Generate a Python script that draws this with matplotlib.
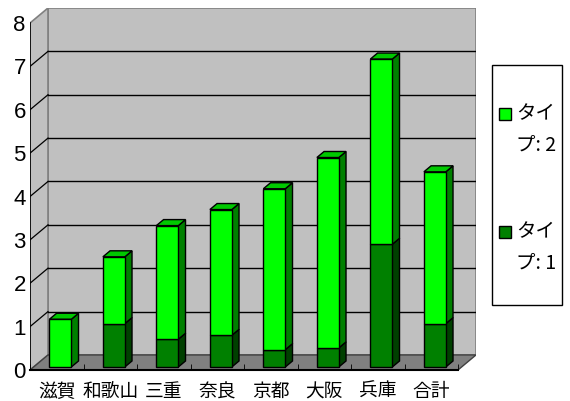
import matplotlib
matplotlib.use('Agg')
import matplotlib.pyplot as plt
from matplotlib.patches import Polygon, Rectangle
import numpy as np

# データ
prefs = ['滋賀', '和歌山', '三重', '奈良', '京都', '大阪', '兵庫', '合計']
type1 = [0.0, 1.0, 0.64, 0.73, 0.40, 0.44, 2.83, 1.0]
type2 = [1.1, 1.54, 2.62, 2.90, 3.71, 4.39, 4.27, 3.5]
names = ['タイプ: 1', 'タイプ: 2']
yticks = list(range(9))

plt.rcParams['font.family'] = ['Noto Sans CJK JP', 'DejaVu Sans']

# 奥行きのずらし量 (データ単位)
DX = 18 / 53.5
DY = 15 / 43.25
D0, D1 = 0.2, 0.6      # 棒の奥行き位置
W = 0.41               # 棒の幅
WALL = '#c0c0c0'
FLOOR = '#808080'
EDGE = '#808080'

fig = plt.figure(figsize=(5.70, 4.01), dpi=100)
ax = fig.add_axes([30 / 570, 31 / 401, 446 / 570, 362 / 401])
ax.set_xlim(-0.5, 7.5 + DX)
ax.set_ylim(0, 8 + DY)
n = len(prefs)
x0, x1 = -0.5, n - 0.5

# 奥の壁
ax.add_patch(Polygon([(x0 + DX, DY), (x1 + DX, DY), (x1 + DX, 8 + DY), (x0 + DX, 8 + DY)],
                     closed=True, fc=WALL, ec=EDGE, lw=1.2, zorder=0))
# 左の壁
ax.add_patch(Polygon([(x0, 0), (x0 + DX, DY), (x0 + DX, 8 + DY), (x0, 8)],
                     closed=True, fc=WALL, ec=EDGE, lw=1.2, zorder=0))
# 床
ax.add_patch(Polygon([(x0, 0), (x1, 0), (x1 + DX, DY), (x0 + DX, DY)],
                     closed=True, fc=FLOOR, ec='#404040', lw=1, zorder=0.5))

# 目盛線
for v in yticks[1:-1]:
    ax.plot([x0 + DX, x1 + DX], [v + DY, v + DY], color='black', lw=1, zorder=0.6)
    ax.plot([x0, x0 + DX], [v, v + DY], color='black', lw=0.9, zorder=0.6)
ax.plot([x0, x0], [0, 8], color='black', lw=1.2, zorder=0.7)
ax.plot([x0, x1], [0, 0], color='black', lw=1.5, zorder=0.7, clip_on=False)


def draw_segment(xc, bottom, height, side, top, is_top):
    xa = xc - W / 2 + D0 * DX
    xb = xc + W / 2 + D0 * DX
    ya = bottom + D0 * DY
    yb = bottom + height + D0 * DY
    sx, sy = (D1 - D0) * DX, (D1 - D0) * DY
    ax.add_patch(Polygon([(xb, ya), (xb + sx, ya + sy), (xb + sx, yb + sy), (xb, yb)],
                         closed=True, fc=side, ec='black', lw=1, zorder=2))
    if is_top:
        ax.add_patch(Polygon([(xa, yb), (xb, yb), (xb + sx, yb + sy), (xa + sx, yb + sy)],
                             closed=True, fc=top, ec='black', lw=1, zorder=2))


x = np.arange(n)
t1 = np.array(type1)
t2 = np.array(type2)
for i in range(n):
    if t1[i] > 0:
        draw_segment(x[i], 0, t1[i], '#004000', '#006000', False)
    draw_segment(x[i], t1[i], t2[i], '#008000', '#00c800', True)

mask = t1 > 0
ax.bar(x[mask] + D0 * DX, t1[mask], W, bottom=D0 * DY, color='#008000',
       edgecolor='black', lw=1, zorder=3)
ax.bar(x + D0 * DX, t2, W, bottom=t1 + D0 * DY, color='#00ff00',
       edgecolor='black', lw=1, zorder=3)

for s in ax.spines.values():
    s.set_visible(False)
ax.set_yticks(yticks)
ax.set_yticklabels([str(v) for v in yticks], family=['Liberation Sans', 'DejaVu Sans'],
                   fontsize=16)
ax.tick_params(axis='y', length=0, pad=3)
ax.set_xticks(x)
ax.set_xticklabels(prefs, fontsize=13.5)
ax.set_xticks(np.arange(-0.5, n + 0.5), minor=True)
ax.tick_params(axis='x', which='major', length=0, pad=8)
ax.tick_params(axis='x', which='minor', length=4, direction='in', color='black')

# 凡例
fig.patches.append(Rectangle((492 / 570, 1 - 305 / 401), 70 / 570, 240 / 401,
                             transform=fig.transFigure, fc='white', ec='black', lw=1))
legend_items = [(names[1], '#00ff00', 114), (names[0], '#008000', 232)]
for label, col, ypix in legend_items:
    fig.patches.append(Rectangle((499 / 570, 1 - (ypix + 6) / 401), 12 / 570, 12 / 401,
                                 transform=fig.transFigure, fc=col, ec='black', lw=1))
    fig.text(516 / 570, 1 - ypix / 401, label[:2], fontsize=14, va='center', ha='left')
    fig.text(516 / 570, 1 - (ypix + 31) / 401, label[2:], fontsize=14, va='center', ha='left')

fig.savefig('out.png', dpi=100)
